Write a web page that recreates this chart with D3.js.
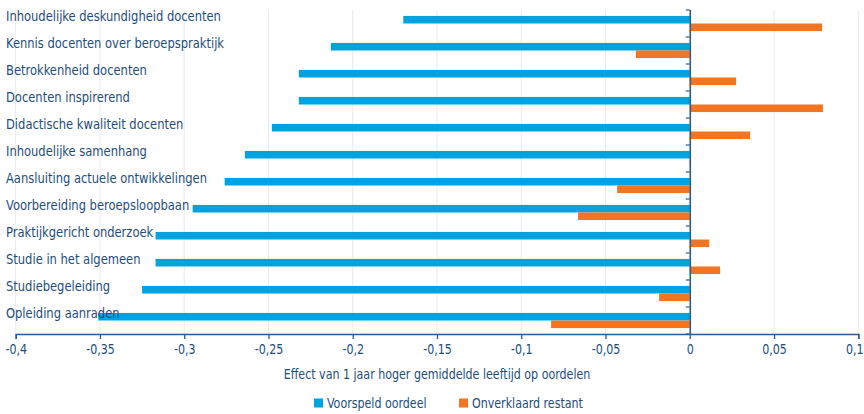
<!DOCTYPE html>
<html>
<head>
<meta charset="utf-8">
<script src="https://cdn.jsdelivr.net/npm/d3@7/dist/d3.min.js"></script>
<style>
  html, body { margin: 0; padding: 0; background: #fff; }
  svg { display: block; }
  text { font-family: 'Liberation Sans Narrow', 'DejaVu Sans Condensed', 'Arial Narrow', sans-serif; fill: #1d4d7c; }
</style>
</head>
<body>
<svg id="chart" width="864" height="414"></svg>
<script>
const categories = [
  "Inhoudelijke deskundigheid docenten",
  "Kennis docenten over beroepspraktijk",
  "Betrokkenheid docenten",
  "Docenten inspirerend",
  "Didactische kwaliteit docenten",
  "Inhoudelijke samenhang",
  "Aansluiting actuele ontwikkelingen",
  "Voorbereiding beroepsloopbaan",
  "Praktijkgericht onderzoek",
  "Studie in het algemeen",
  "Studiebegeleiding",
  "Opleiding aanraden"
];
const voorspeld = [-0.170, -0.213, -0.232, -0.232, -0.248, -0.264, -0.276, -0.295, -0.317, -0.317, -0.325, -0.351];
const onverklaard = [0.0785, -0.032, 0.0275, 0.079, 0.0358, 0.0004, -0.0431, -0.0663, 0.0115, 0.018, -0.0182, -0.0823];
const seriesNames = ["Voorspeld oordeel", "Onverklaard restant"];
const seriesColors = ["#00a3e0", "#f47521"];
const xTicks = [-0.4, -0.35, -0.3, -0.25, -0.2, -0.15, -0.1, -0.05, 0, 0.05, 0.1];
const xTitle = "Effect van 1 jaar hoger gemiddelde leeftijd op oordelen";

const W = 864;
const svg = d3.select("#chart");
const x = d3.scaleLinear().domain([-0.4, 0.1]).range([15.7, 858.3]);
const y = d3.scaleBand().domain(categories).range([10, 334]).paddingInner(0.44).paddingOuter(0.22);
const sub = d3.scaleBand().domain(seriesNames).range([0, y.bandwidth()]);
const fmt = v => (v === 0 ? "0" : String(v).replace(".", ","));
const squeeze = 0.88;

// gridlines
svg.append("g").selectAll("line").data(xTicks.filter(t => t !== 0)).join("line")
  .attr("x1", d => x(d)).attr("x2", d => x(d))
  .attr("y1", 10).attr("y2", 334)
  .attr("stroke", "#e9e9f2").attr("stroke-width", 1);

// bars
const data = categories.map((c, i) => ({c, vals: [voorspeld[i], onverklaard[i]]}));
const groups = svg.append("g").selectAll("g").data(data).join("g")
  .attr("transform", d => `translate(0,${y(d.c)})`);
groups.selectAll("rect").data(d => d.vals.map((v, j) => ({v, s: seriesNames[j], col: seriesColors[j]}))).join("rect")
  .attr("x", d => x(Math.min(0, d.v)))
  .attr("width", d => Math.abs(x(d.v) - x(0)))
  .attr("y", d => sub(d.s))
  .attr("height", sub.bandwidth())
  .attr("fill", d => d.col);

// zero axis line with category boundary ticks
const step = y.step();
const boundaries = d3.range(categories.length + 1).map(i => 10 + i * step);
const zeroAxis = svg.append("g");
zeroAxis.selectAll("line.tk").data(boundaries).join("line")
  .attr("class", "tk")
  .attr("x1", x(0) - 4).attr("x2", x(0))
  .attr("y1", d => d).attr("y2", d => d)
  .attr("stroke", "#2c5b8a").attr("stroke-width", 1.2);
zeroAxis.append("line")
  .attr("x1", x(0) + 0.5).attr("x2", x(0) + 0.5)
  .attr("y1", 10).attr("y2", 334)
  .attr("stroke", "#2c5b8a").attr("stroke-width", 1.6);

// bottom axis
const xAxis = d3.axisBottom(x).tickValues(xTicks).tickFormat(fmt).tickSize(5).tickPadding(5);
const ax = svg.append("g").attr("transform", "translate(0,334)").call(xAxis);
ax.select(".domain").attr("stroke", "#2c5b8a").attr("stroke-width", 1.5);
ax.selectAll(".tick line").attr("stroke", "#2c5b8a").attr("stroke-width", 1.3);
ax.selectAll(".tick text").attr("font-size", 14).attr("fill", "#1d4d7c")
  .attr("transform", `scale(${squeeze},1)`)
  .attr("font-family", "'Liberation Sans Narrow', 'DejaVu Sans Condensed', sans-serif");
// keep the last tick label inside the picture
ax.selectAll(".tick text").filter(d => d === xTicks[xTicks.length - 1])
  .attr("text-anchor", "end")
  .attr("x", (W - 1 - x(xTicks[xTicks.length - 1])) / squeeze);

// category labels
svg.append("g").selectAll("text").data(categories).join("text")
  .attr("transform", d => `translate(6,${y(d) + 5}) scale(0.915,1)`)
  .attr("font-size", 14)
  .text(d => d);

// axis title
svg.append("text")
  .attr("transform", `translate(${(x.range()[0] + x.range()[1]) / 2},379) scale(${squeeze},1)`)
  .attr("text-anchor", "middle")
  .attr("font-size", 14)
  .text(xTitle);

// legend
const legend = svg.append("g");
const legendX = [314, 459];
seriesNames.forEach((s, i) => {
  legend.append("rect").attr("x", legendX[i]).attr("y", 398.5).attr("width", 9).attr("height", 9).attr("fill", seriesColors[i]);
  legend.append("text").attr("transform", `translate(${legendX[i] + 13},408) scale(${squeeze},1)`)
    .attr("font-size", 14).text(s);
});
</script>
</body>
</html>
